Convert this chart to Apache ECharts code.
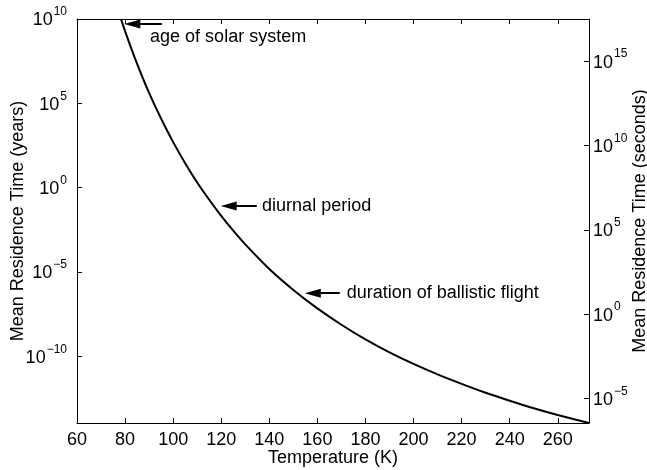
<!DOCTYPE html>
<html>
<head>
<meta charset="utf-8">
<script src="https://cdn.jsdelivr.net/npm/echarts@6/dist/echarts.min.js"></script>
<style>
  html, body { margin: 0; padding: 0; background: #fff; }
  #chart { width: 647px; height: 470px; }
</style>
</head>
<body>
<div id="chart"></div>
<script>
// Mean residence time of a molecule on the surface vs. surface temperature
const temperatureK = [78.3, 79, 80, 82, 84, 86, 88, 90, 93, 96, 100, 105, 110, 115, 120, 125,
                      130, 140, 150, 160, 170, 180, 190, 200, 210, 220, 230, 240, 250, 260, 273];
const residenceYears = [1.0e10, 4.9e9, 1.9e9, 3.0e8, 5.1e7, 9.6e6, 1.9e6, 4.2e5, 4.8e4, 6.3e3,
                        5.0e2, 28, 2.0, 0.19, 0.021, 2.8e-3, 4.3e-4, 1.5e-5, 8.6e-7, 6.9e-8,
                        7.4e-9, 1.0e-9, 1.7e-10, 3.5e-11, 8.4e-12, 2.3e-12, 6.8e-13, 2.3e-13,
                        8.3e-14, 3.3e-14, 1.1e-14];

// Axis ranges and tick values
const tempMin = 60, tempMax = 273, tempStep = 20;
const yearMin = 1.1e-14, yearMax = 1e10;
const yearTicks = [1e-10, 1e-5, 1, 1e5, 1e10];
const secondTicks = [1e-5, 1, 1e5, 1e10, 1e15];
const SECONDS_PER_YEAR = 3.156e7;

// Annotations: arrow from tail to head at a given residence time, text to the right
const noteLabels = ['age of solar system', 'diurnal period', 'duration of ballistic flight'];
const noteYears = [5e9, 0.081, 5.5e-7];
const noteHeadK = [83.0, 123.1, 158.1];
const noteTailK = [95.3, 134.8, 169.3];
const noteTextK = [90.4, 137.0, 172.2];
const noteTextYears = [9e8, 0.081, 5.5e-7];

const FONT = '"Liberation Sans", Arial, Helvetica, sans-serif';

function powerLabel(value) {
  const e = Math.round(Math.log10(value));
  const s = e < 0 ? '\u2212' + (-e) : String(e);
  return '{b|10}{s|' + s + '}';
}
const powerRich = {
  b: { fontSize: 18, fontFamily: FONT, color: '#000', padding: [3, 0, 0, 0] },
  s: { fontSize: 12, fontFamily: FONT, color: '#000', padding: [0, 0, 14, 1] }
};

const series = [{
  type: 'line',
  data: temperatureK.map((t, i) => [t, residenceYears[i]]),
  showSymbol: false,
  smooth: 0.3,
  lineStyle: { color: '#000', width: 2 },
  itemStyle: { color: '#000' },
  silent: true,
  animation: false,
  markLine: {
    silent: true,
    animation: false,
    symbol: ['none', 'triangle'],
    lineStyle: { color: '#000', width: 2, type: 'solid' },
    itemStyle: { color: '#000' },
    label: { show: false },
    emphasis: { disabled: true },
    data: noteYears.map((v, i) => [
      { coord: [noteTailK[i], v], symbol: 'none' },
      { coord: [noteHeadK[i], v], symbol: 'triangle', symbolSize: [9, 16] }
    ])
  },
  markPoint: {
    silent: true,
    animation: false,
    symbol: 'circle',
    symbolSize: 0,
    label: {
      show: true,
      position: 'right',
      distance: 0,
      color: '#000',
      fontSize: 18,
      fontFamily: FONT
    },
    data: noteLabels.map((txt, i) => ({
      coord: [noteTextK[i], noteTextYears[i]],
      label: { formatter: txt }
    }))
  }
}];

const chart = echarts.init(document.getElementById('chart'), null, { renderer: 'canvas' });
chart.setOption({
  animation: false,
  backgroundColor: '#fff',
  textStyle: { fontFamily: FONT },
  grid: { left: 77, right: 58, top: 19, bottom: 47, containLabel: false, outerBoundsMode: 'none' },
  xAxis: [{
    type: 'value',
    position: 'bottom',
    min: tempMin, max: tempMax, interval: tempStep,
    name: 'Temperature (K)',
    nameLocation: 'middle',
    nameGap: 26,
    nameMoveOverlap: false,
    nameTextStyle: { fontSize: 18, color: '#000', fontFamily: FONT },
    axisLine: { show: true, lineStyle: { color: '#000', width: 1 } },
    axisTick: { show: true, inside: true, length: 5, lineStyle: { color: '#000' } },
    axisLabel: { fontSize: 18, color: '#000', margin: 8, showMaxLabel: false, fontFamily: FONT },
    splitLine: { show: false }
  }, {
    type: 'value',
    position: 'top',
    min: tempMin, max: tempMax, interval: tempStep,
    axisLine: { show: true, lineStyle: { color: '#000', width: 1 } },
    axisTick: { show: true, inside: true, length: 5, lineStyle: { color: '#000' } },
    axisLabel: { show: false },
    splitLine: { show: false }
  }],
  yAxis: [{
    type: 'log',
    logBase: 10,
    position: 'left',
    min: yearMin, max: yearMax,
    name: 'Mean Residence Time (years)',
    nameLocation: 'middle',
    nameRotate: 90,
    nameGap: 50,
    nameMoveOverlap: false,
    nameTextStyle: { fontSize: 18, color: '#000', fontFamily: FONT },
    axisLine: { show: true, lineStyle: { color: '#000', width: 1 } },
    axisTick: { show: true, inside: true, length: 5, customValues: yearTicks, lineStyle: { color: '#000' } },
    axisLabel: { customValues: yearTicks, formatter: powerLabel, rich: powerRich, margin: 10 },
    minorTick: { show: false },
    splitLine: { show: false }
  }, {
    type: 'log',
    logBase: 10,
    position: 'right',
    min: yearMin * SECONDS_PER_YEAR, max: yearMax * SECONDS_PER_YEAR,
    name: 'Mean Residence Time (seconds)',
    nameLocation: 'middle',
    nameRotate: 90,
    nameGap: 42,
    nameMoveOverlap: false,
    nameTextStyle: { fontSize: 18, color: '#000', fontFamily: FONT },
    axisLine: { show: true, lineStyle: { color: '#000', width: 1 } },
    axisTick: { show: true, inside: true, length: 5, customValues: secondTicks, lineStyle: { color: '#000' } },
    axisLabel: { customValues: secondTicks, formatter: powerLabel, rich: powerRich, margin: 4 },
    minorTick: { show: false },
    splitLine: { show: false }
  }],
  series: series
});
</script>
</body>
</html>
